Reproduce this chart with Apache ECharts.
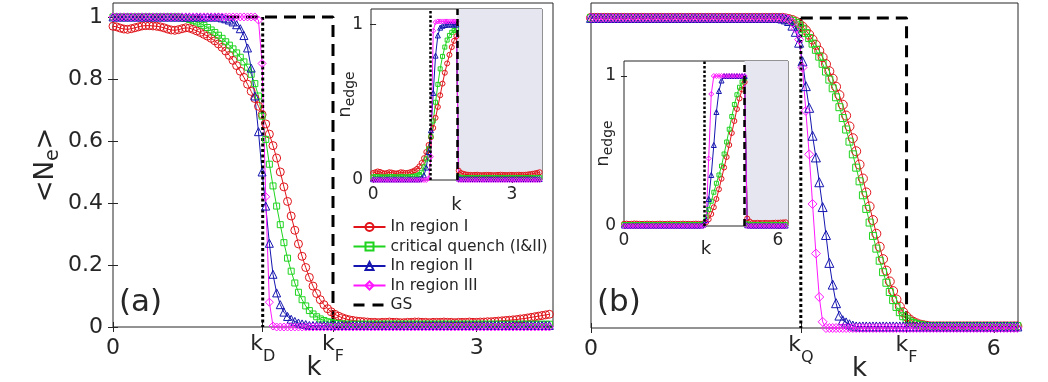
<!DOCTYPE html>
<html>
<head>
<meta charset="utf-8">
<title>Edge occupation after quench</title>
<script src="https://cdn.jsdelivr.net/npm/echarts@6/dist/echarts.min.js"></script>
<style>
  html, body { margin: 0; padding: 0; background: #fff; }
  #chart { width: 1048px; height: 382px; }
</style>
</head>
<body>
<div id="chart"></div>
<script>
// ---- special momenta ----
const K_D = 1.235
const K_FA = 1.815
const K_Q = 3.125
const K_FB = 4.70

// ---- panel (a), main: k grid and <N_e> ----
const kA = Array.from({ length: 121 }, (_, i) => +(i * 0.03).toFixed(2))
const redA = [
  .970, .968, .964, .961, .960, .962, .965, .968, .971, .972, .972, .971, .970, .968, .965, .961, .958, .957, .959, .962,
  .965, .964, .960, .955, .950, .944, .938, .931, .923, .913, .902, .890, .876, .860, .843, .825, .805, .783, .760, .737,
  .712, .685, .655, .622, .585, .545, .500, .452, .405, .358, .312, .268, .228, .192, .160, .132, .108, .088, .072, .059,
  .049, .041, .035, .030, .026, .023, .021, .019, .018, .017, .016, .015, .015, .014, .015, .015, .016, .015, .015, .014,
  .014, .015, .015, .016, .016, .015, .015, .014, .015, .015, .015, .016, .015, .015, .014, .015, .015, .015, .016, .015,
  .015, .016, .016, .017, .017, .018, .019, .020, .021, .022, .023, .024, .026, .027, .029, .031, .033, .035, .037, .039, .041
]
const greenA = [
  1, 1, 1, 1, 1, 1, 1, 1, 1, 1, 1, 1, 1, 1, 1, 1, 1, 1, 1, .997,
  .995, .992, .988, .984, .979, .973, .966, .958, .950, .941, .931, .920, .909, .897, .884, .870, .855, .838, .815, .785,
  .745, .680, .605, .525, .455, .390, .330, .272, .222, .180, .142, .112, .088, .068, .053, .042, .033, .026, .021, .017,
  .014, .012, .011, .010, .009, .009, .009, .009, .009, .009, .009, .009, .009, .009, .009, .009, .009, .009, .009, .009,
  .009, .009, .009, .009, .009, .009, .009, .009, .009, .009, .009, .009, .009, .009, .009, .009, .009, .009, .009, .009,
  .009, .009, .009, .009, .009, .009, .009, .009, .009, .009, .009, .009, .009, .009, .009, .009, .009, .009, .009, .009, .009
]
const blueA = [
  1, 1, 1, 1, 1, 1, 1, 1, 1, 1, 1, 1, 1, 1, 1, 1, 1, 1, 1, 1,
  1, 1, 1, 1, 1, 1, 1, 1, 1, 1, .997, .994, .990, .984, .975, .962, .940, .900, .835, .745,
  .630, .500, .390, .270, .170, .110, .072, .048, .034, .025, .018, .013, .010, .008, .005, .005, .005, .005, .005, .005,
  .005, .005, .005, .005, .005, .005, .005, .005, .005, .005, .005, .005, .005, .005, .005, .005, .005, .005, .005, .005,
  .005, .005, .005, .005, .005, .005, .005, .005, .005, .005, .005, .005, .005, .005, .005, .005, .005, .005, .005, .005,
  .005, .005, .005, .005, .005, .005, .005, .005, .005, .005, .005, .005, .005, .005, .005, .005, .005, .005, .005, .005, .005
]
const magentaA = [
  1, 1, 1, 1, 1, 1, 1, 1, 1, 1, 1, 1, 1, 1, 1, 1, 1, 1, 1, 1,
  1, 1, 1, 1, 1, 1, 1, 1, 1, 1, 1, 1, 1, 1, 1, 1, 1, 1, 1, 1,
  .990, .850, .420, .080, .003, 0, 0, 0, 0, 0, 0, 0, 0, 0, 0, 0, 0, 0, 0, 0,
  0, 0, 0, 0, 0, 0, 0, 0, 0, 0, 0, 0, 0, 0, 0, 0, 0, 0, 0, 0,
  0, 0, 0, 0, 0, 0, 0, 0, 0, 0, 0, 0, 0, 0, 0, 0, 0, 0, 0, 0,
  0, 0, 0, 0, 0, 0, 0, 0, 0, 0, 0, 0, 0, 0, 0, 0, 0, 0, 0, 0, 0
]
const gsKA = [0, K_FA, K_FA, 3.63]
const gsA = [1, 1, 0, 0]

// ---- panel (a), inset: n_edge ----
const kIA = Array.from({ length: 73 }, (_, i) => +(i * 0.05).toFixed(2))
const redIA = [
  .045, .050, .055, .052, .046, .042, .045, .050, .048, .044, .042, .045, .050, .048, .045, .046, .050, .055, .062, .072,
  .088, .110, .140, .180, .225, .275, .335, .400, .470, .545, .620, .690, .750, .805, .855, .895, .925, .060, .045, .040,
  .036, .034, .033, .032, .033, .034, .032, .031, .032, .033, .033, .032, .031, .032, .033, .034, .033, .032, .032, .033,
  .033, .032, .033, .034, .033, .033, .034, .036, .038, .040, .043, .046, .050
]
const greenIA = [
  .020, .022, .021, .019, .020, .018, .020, .021, .022, .020, .019, .020, .021, .020, .019, .020, .022, .023, .025, .028,
  .035, .050, .085, .135, .200, .280, .380, .500, .615, .715, .795, .855, .900, .930, .950, .962, .970, .020, .015, .015,
  .015, .015, .015, .015, .015, .015, .015, .015, .015, .015, .015, .015, .015, .015, .015, .015, .015, .015, .015, .015,
  .015, .015, .015, .015, .015, .015, .015, .015, .015, .015, .015, .015, .015
]
const blueIA = [
  .005, .005, .005, .005, .005, .005, .005, .005, .005, .005, .005, .005, .005, .005, .005, .005, .005, .005, .005, .005,
  .005, .012, .030, .080, .180, .320, .560, .800, .930, .980, .992, .997, 1, 1, 1, 1, 1, .010, .006, .006,
  .006, .006, .006, .006, .006, .006, .006, .006, .006, .006, .006, .006, .006, .006, .006, .006, .006, .006, .006, .006,
  .006, .006, .006, .006, .006, .006, .006, .006, .006, .006, .006, .006, .006
]
const magentaIA = [
  0, 0, 0, 0, 0, 0, 0, 0, 0, 0, 0, 0, 0, 0, 0, 0, 0, 0, 0, 0,
  0, 0, 0, 0, .010, .150, .960, 1.015, 1.02, 1.02, 1.02, 1.02, 1.02, 1.02, 1.02, 1.02, 1.02, 0, 0, 0,
  0, 0, 0, 0, 0, 0, 0, 0, 0, 0, 0, 0, 0, 0, 0, 0, 0, 0, 0, 0,
  0, 0, 0, 0, 0, 0, 0, 0, 0, 0, 0, 0, 0
]

// ---- panel (b), main ----
const kB = Array.from({ length: 128 }, (_, i) => +(i * 0.05).toFixed(2))
const redB = [
  1, 1, 1, 1, 1, 1, 1, 1, 1, 1, 1, 1, 1, 1, 1, 1, 1, 1, 1, 1,
  1, 1, 1, 1, 1, 1, 1, 1, 1, 1, 1, 1, 1, 1, 1, 1, 1, 1, 1, 1,
  1, 1, 1, 1, 1, 1, 1, 1, 1, 1, 1, 1, 1, 1, 1, 1, 1, 1, .998, .996,
  .993, .988, .981, .972, .960, .946, .930, .913, .894, .873, .851, .828, .804, .778, .751, .720, .685, .650, .612, .570,
  .527, .482, .437, .392, .348, .304, .262, .222, .185, .150, .119, .092, .069, .051, .037, .027, .020, .015, .011, .009,
  .007, .005, .005, .005, .005, .005, .005, .005, .005, .005, .005, .005, .005, .005, .005, .005, .005, .005, .005, .005,
  .005, .005, .005, .005, .005, .005, .005, .005
]
const greenB = [
  1, 1, 1, 1, 1, 1, 1, 1, 1, 1, 1, 1, 1, 1, 1, 1, 1, 1, 1, 1,
  1, 1, 1, 1, 1, 1, 1, 1, 1, 1, 1, 1, 1, 1, 1, 1, 1, 1, 1, 1,
  1, 1, 1, 1, 1, 1, 1, 1, 1, 1, 1, 1, 1, 1, 1, 1, 1, 1, .997, .994,
  .990, .984, .976, .965, .951, .935, .917, .897, .875, .852, .827, .801, .773, .744, .712, .677, .640, .601, .560, .517,
  .473, .428, .384, .340, .297, .256, .217, .180, .146, .116, .090, .068, .051, .038, .028, .021, .016, .012, .010, .008,
  .006, .006, .006, .006, .006, .006, .006, .006, .006, .006, .006, .006, .006, .006, .006, .006, .006, .006, .006, .006,
  .006, .006, .006, .006, .006, .006, .006, .006
]
const blueB = [
  1, 1, 1, 1, 1, 1, 1, 1, 1, 1, 1, 1, 1, 1, 1, 1, 1, 1, 1, 1,
  1, 1, 1, 1, 1, 1, 1, 1, 1, 1, 1, 1, 1, 1, 1, 1, 1, 1, 1, 1,
  1, 1, 1, 1, 1, 1, 1, 1, 1, 1, 1, 1, 1, 1, 1, 1, 1, .998, .995, .990,
  .975, .955, .920, .860, .780, .710, .620, .550, .470, .390, .300, .210, .140, .080, .040, .025, .018, .012, .008, .005,
  .005, .005, .005, .005, .005, .005, .005, .005, .005, .005, .005, .005, .005, .005, .005, .005, .005, .005, .005, .005,
  .005, .005, .005, .005, .005, .005, .005, .005, .005, .005, .005, .005, .005, .005, .005, .005, .005, .005, .005, .005,
  .005, .005, .005, .005, .005, .005, .005, .005
]
const magentaB = [
  1, 1, 1, 1, 1, 1, 1, 1, 1, 1, 1, 1, 1, 1, 1, 1, 1, 1, 1, 1,
  1, 1, 1, 1, 1, 1, 1, 1, 1, 1, 1, 1, 1, 1, 1, 1, 1, 1, 1, 1,
  1, 1, 1, 1, 1, 1, 1, 1, 1, 1, 1, 1, 1, 1, 1, 1, 1, 1, .999, .995,
  .985, .965, .930, .840, .700, .560, .400, .240, .100, .020, 0, 0, 0, 0, 0, 0, 0, 0, 0, 0,
  0, 0, 0, 0, 0, 0, 0, 0, 0, 0, 0, 0, 0, 0, 0, 0, 0, 0, 0, 0,
  0, 0, 0, 0, 0, 0, 0, 0, 0, 0, 0, 0, 0, 0, 0, 0, 0, 0, 0, 0,
  0, 0, 0, 0, 0, 0, 0, 0
]
const gsKB = [K_Q, K_FB, K_FB]
const gsB = [1, 1, 0]

// ---- panel (b), inset ----
const kIB = Array.from({ length: 64 }, (_, i) => +(i * 0.1).toFixed(1))
const redIB = [
  .015, .016, .014, .015, .017, .016, .015, .014, .015, .016, .015, .015, .014, .015, .016, .015, .014, .015, .016, .015,
  .015, .014, .015, .016, .015, .015, .014, .015, .016, .015, .015, .018, .025, .045, .080, .125, .180, .245, .315, .390,
  .460, .540, .620, .700, .780, .850, .910, .960, .050, .030, .020, .020, .021, .020, .020, .021, .020, .020, .021, .022,
  .022, .023, .024, .025
]
const greenIB = [
  .010, .010, .010, .010, .010, .010, .010, .010, .010, .010, .010, .010, .010, .010, .010, .010, .010, .010, .010, .010,
  .010, .010, .010, .010, .010, .010, .010, .010, .010, .010, .010, .015, .060, .110, .165, .225, .285, .340, .400, .480,
  .560, .645, .730, .810, .875, .925, .960, .985, .015, .010, .010, .010, .010, .010, .010, .010, .010, .010, .010, .010,
  .010, .010, .010, .010
]
const blueIB = [
  .003, .003, .003, .003, .003, .003, .003, .003, .003, .003, .003, .003, .003, .003, .003, .003, .003, .003, .003, .003,
  .003, .003, .003, .003, .003, .003, .003, .003, .003, .003, .003, .010, .040, .180, .340, .540, .760, .900, .970, 1,
  1, 1, 1, 1, 1, 1, 1, 1, .005, .003, .003, .003, .003, .003, .003, .003, .003, .003, .003, .003,
  .003, .003, .003, .003
]
const magentaIB = [
  0, 0, 0, 0, 0, 0, 0, 0, 0, 0, 0, 0, 0, 0, 0, 0, 0, 0, 0, 0,
  0, 0, 0, 0, 0, 0, 0, 0, 0, 0, 0, 0, .030, .450, .880, 1, 1, 1, 1, 1,
  1, 1, 1, 1, 1, 1, 1, 1, 0, 0, 0, 0, 0, 0, 0, 0, 0, 0, 0, 0,
  0, 0, 0, 0
]

// ---- tick labels ----
const ticksA = [0, K_D, K_FA, 3]
const tickTextA = ['{z|0}', '{k|k}{s|D}', '{k|k}{s|F}', '{z|3}']
const ticksB = [0, K_Q, K_FB, 6]
const tickTextB = ['{z|0}', '{k|k}{s|Q}', '{k|k}{s|F}', '{z|6}']
const ticksY = [0, 0.2, 0.4, 0.6, 0.8, 1]

const names = ['In region I', 'critical quench (I&II)', 'In region II', 'In region III', 'GS']

const FONT = 'DejaVu Sans'
const INK = '#262626'
const RED = '#e0141a'
const GREEN = '#1fd41f'
const BLUE = '#1515b0'
const MAGENTA = '#ff18ff'
const SHADE = '#e6e6f0'

const chart = echarts.init(document.getElementById('chart'))

const pick = (vals, texts) => (v) => {
  for (let j = 0; j < vals.length; j++) {
    if (Math.abs(v - vals[j]) < 1e-6) return texts[j]
  }
  return ''
}

const richMain = {
  z: { fontSize: 22, fontFamily: FONT, color: INK, padding: [4, 0, 0, 0] },
  k: { fontSize: 22, fontFamily: FONT, color: INK, verticalAlign: 'top' },
  s: { fontSize: 16, fontFamily: FONT, color: INK, padding: [16, 0, 0, 0] }
}

// bottom (labelled) x axis
const xMain = (gi, max, ticks, texts, namePad) => ({
  type: 'value', gridIndex: gi, min: 0, max: max,
  axisLine: { show: false }, splitLine: { show: false },
  axisTick: { inside: true, length: 5, customValues: ticks, lineStyle: { color: INK } },
  axisLabel: {
    customValues: ticks, formatter: pick(ticks, texts), margin: 6,
    color: INK, fontFamily: FONT, fontSize: 22, rich: richMain
  },
  name: 'k', nameLocation: 'middle', nameGap: 28, nameMoveOverlap: false,
  nameTextStyle: { fontSize: 26, fontFamily: FONT, color: INK, padding: namePad }
})
const xInset = (gi, min, max, ticks, nameGap) => ({
  type: 'value', gridIndex: gi, min: min, max: max,
  axisLine: { show: false }, splitLine: { show: false },
  axisTick: { inside: true, length: 3, customValues: ticks, lineStyle: { color: INK } },
  axisLabel: { customValues: ticks, margin: 6, color: INK, fontFamily: FONT, fontSize: 17 },
  name: 'k', nameLocation: 'middle', nameGap: nameGap, nameMoveOverlap: false,
  nameTextStyle: { fontSize: 18, fontFamily: FONT, color: INK }
})
const yInset = (gi, nameGap) => ({
  type: 'value', gridIndex: gi, min: 0, max: 1.1,
  axisLine: { show: false }, splitLine: { show: false },
  axisTick: { inside: true, length: 3, customValues: [0, 1], lineStyle: { color: INK } },
  axisLabel: { customValues: [0, 1], margin: 8, color: INK, fontFamily: FONT, fontSize: 17 },
  name: '{n|n}{s|edge}', nameLocation: 'middle', nameRotate: 90, nameGap: nameGap, nameMoveOverlap: false,
  nameTextStyle: {
    rich: {
      n: { fontSize: 18, fontFamily: FONT, color: INK },
      s: { fontSize: 14, fontFamily: FONT, color: INK, padding: [9, 0, 0, 0] }
    }
  }
})
// unlabelled mirror axes (box ticks on top / right)
const mirror = (gi, pos, min, max, ticks, len) => ({
  type: 'value', gridIndex: gi, position: pos, min: min, max: max,
  axisLine: { show: false }, splitLine: { show: false }, axisLabel: { show: false },
  axisTick: { show: ticks.length > 0, inside: true, length: len, customValues: ticks, lineStyle: { color: INK } }
})

const curve = (name, xs, ys, color, symbol, size, ai) => ({
  type: 'line', name: name, xAxisIndex: ai, yAxisIndex: ai,
  data: xs.map((x, i) => [x, ys[i]]),
  symbol: symbol, symbolSize: size, showAllSymbol: true,
  lineStyle: { color: color, width: 1 },
  itemStyle: { color: 'rgba(255,255,255,0)', borderColor: color, borderWidth: 1 },
  emphasis: { disabled: true }, silent: true, animation: false
})
const step = (name, xs, ys, ai, dash, width) => ({
  type: 'line', name: name, xAxisIndex: ai, yAxisIndex: ai,
  data: xs.map((x, i) => [x, ys[i]]),
  symbol: 'none', lineStyle: { color: '#000', width: width, type: dash },
  itemStyle: { color: 'rgba(0,0,0,0)', borderWidth: 0 },
  emphasis: { disabled: true }, silent: true, animation: false, z: 3
})
// inset markers: shaded region past k_F and the two vertical guides
const insetMarks = (kd, kf, xmax) => ({
  markArea: { silent: true, itemStyle: { color: SHADE }, data: [[{ xAxis: kf }, { xAxis: xmax }]] },
  markLine: {
    silent: true, symbol: ['none', 'none'], label: { show: false }, animation: false,
    data: [
      { xAxis: kd, lineStyle: { color: '#000', width: 2.5, type: [2.5, 2] } },
      { xAxis: kf, lineStyle: { color: '#000', width: 2.5, type: [7, 4] } }
    ]
  }
})

const series = [
  // (a) main
  curve(names[0], kA, redA, RED, 'circle', 8, 0),
  curve(names[1], kA, greenA, GREEN, 'rect', 6, 0),
  curve(names[2], kA, blueA, BLUE, 'triangle', 8, 0),
  curve(names[3], kA, magentaA, MAGENTA, 'diamond', 8, 0),
  step(names[4], gsKA, gsA, 0, [12, 7], 3),
  step('kD', [K_D, K_D], [1, 0], 0, [3, 2.5], 3),
  // (a) inset
  Object.assign(curve(names[0], kIA, redIA, RED, 'circle', 5, 1), insetMarks(K_D, K_FA, 3.65)),
  curve(names[1], kIA, greenIA, GREEN, 'rect', 4, 1),
  curve(names[2], kIA, blueIA, BLUE, 'triangle', 5, 1),
  curve(names[3], kIA, magentaIA, MAGENTA, 'diamond', 5, 1),
  // (b) main
  curve(names[0], kB, redB, RED, 'circle', 9, 2),
  curve(names[1], kB, greenB, GREEN, 'rect', 7, 2),
  curve(names[2], kB, blueB, BLUE, 'triangle', 9, 2),
  curve(names[3], kB, magentaB, MAGENTA, 'diamond', 9, 2),
  step(names[4], gsKB, gsB, 2, [12, 7], 3),
  step('kQ', [K_Q, K_Q], [1, 0], 2, [3, 2.5], 3),
  // (b) inset
  Object.assign(curve(names[0], kIB, redIB, RED, 'circle', 5, 3), insetMarks(K_Q, K_FB, 6.39)),
  curve(names[1], kIB, greenIB, GREEN, 'rect', 4, 3),
  curve(names[2], kIB, blueIB, BLUE, 'triangle', 5, 3),
  curve(names[3], kIB, magentaIB, MAGENTA, 'diamond', 5, 3)
]

const gridBox = { show: true, borderColor: INK, borderWidth: 1, outerBoundsMode: 'none', containLabel: false }

const option = {
  animation: false,
  backgroundColor: '#fff',
  textStyle: { fontFamily: FONT },
  title: [
    { text: '(a)', left: 119, top: 287, padding: 0, textStyle: { fontSize: 31, fontWeight: 'normal', color: INK, fontFamily: FONT } },
    { text: '(b)', left: 597, top: 287, padding: 0, textStyle: { fontSize: 31, fontWeight: 'normal', color: INK, fontFamily: FONT } }
  ],
  legend: {
    data: names.slice(0, 4).concat([{
      name: names[4],
      itemStyle: { color: 'rgba(0,0,0,0)', borderWidth: 0 },
      lineStyle: { color: '#000', width: 3, type: [11, 8] }
    }]),
    orient: 'vertical', left: 347, top: 214,
    itemWidth: 32, itemHeight: 10, itemGap: 3.5,
    textStyle: { fontSize: 15.5, color: INK, fontFamily: FONT },
    selectedMode: false
  },
  grid: [
    Object.assign({ left: 113, top: 3, width: 440, height: 324, backgroundColor: 'transparent' }, gridBox),
    Object.assign({ left: 371, top: 9, width: 171, height: 171, backgroundColor: '#fff' }, gridBox),
    Object.assign({ left: 591, top: 3, width: 427, height: 325, backgroundColor: 'transparent' }, gridBox),
    Object.assign({ left: 624, top: 61, width: 164, height: 165, backgroundColor: '#fff' }, gridBox)
  ],
  xAxis: [
    xMain(0, 3.63, ticksA, tickTextA, [0, 38, 0, 0]),
    xInset(1, -0.045, 3.65, [0, 3], 16),
    xMain(2, 6.36, ticksB, tickTextB, [0, 0, 0, 110]),
    xInset(3, 0, 6.39, [0, 6], 14),
    mirror(0, 'top', 0, 3.63, ticksA, 5),
    mirror(1, 'top', -0.045, 3.65, [0, 3], 3),
    mirror(2, 'top', 0, 6.36, ticksB, 5),
    mirror(3, 'top', 0, 6.39, [0, 6], 3)
  ],
  yAxis: [
    {
      type: 'value', gridIndex: 0, min: 0, max: 1.045,
      axisLine: { show: false }, splitLine: { show: false },
      axisTick: { inside: true, length: 5, customValues: ticksY, lineStyle: { color: INK } },
      axisLabel: { customValues: ticksY, margin: 10, color: INK, fontFamily: FONT, fontSize: 22 },
      name: '{n|<N}{s|e}{n|>}', nameLocation: 'middle', nameRotate: 90, nameGap: 50, nameMoveOverlap: false,
      nameTextStyle: {
        rich: {
          n: { fontSize: 26, fontFamily: FONT, color: INK },
          s: { fontSize: 19, fontFamily: FONT, color: INK, padding: [14, 0, 0, 0] }
        }
      }
    },
    yInset(1, 14),
    {
      type: 'value', gridIndex: 2, min: 0, max: 1.048,
      axisLine: { show: false }, splitLine: { show: false },
      axisTick: { show: false }, axisLabel: { show: false }
    },
    yInset(3, 9),
    mirror(0, 'right', 0, 1.045, ticksY, 5),
    mirror(1, 'right', 0, 1.1, [0, 1], 3),
    mirror(2, 'right', 0, 1.048, [], 5),
    mirror(3, 'right', 0, 1.1, [0, 1], 3)
  ],
  series: series
}

chart.setOption(option)
window.addEventListener('resize', () => chart.resize())
</script>
</body>
</html>
